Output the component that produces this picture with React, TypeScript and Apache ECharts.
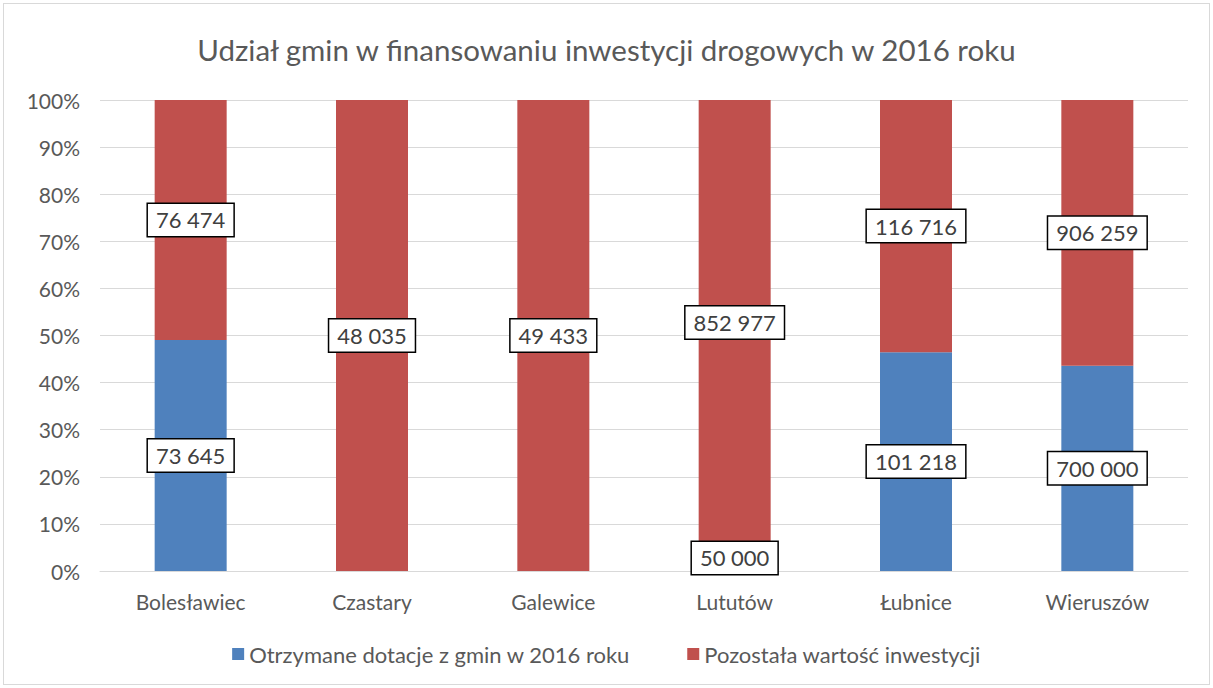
import React, { useEffect, useRef } from "react";
import * as echarts from "echarts";

const categories = ["Bolesławiec", "Czastary", "Galewice", "Lututów", "Łubnice", "Wieruszów"];
const grants = [73645, 0, 0, 50000, 101218, 700000];
const remaining = [76474, 48035, 49433, 852977, 116716, 906259];
const seriesNames = ["Otrzymane dotacje z gmin w 2016 roku", "Pozostała wartość inwestycji"];
const title = "Udział gmin w finansowaniu inwestycji drogowych w 2016 roku";

const fmt = (v: number) => String(v).replace(/\B(?=(\d{3})+(?!\d))/g, " ");

export default function App() {
  const ref = useRef<HTMLDivElement>(null);
  useEffect(() => {
    const chart = echarts.init(ref.current!, null, { renderer: "svg" });
    const totals = grants.map((g, i) => g + remaining[i]);
    const font = "Lato, 'Noto Sans', sans-serif";
    const labelStyle = {
      show: true,
      position: "inside",
      fontFamily: font,
      fontSize: 22,
      color: "#404040",
      backgroundColor: "#ffffff",
      borderColor: "#000000",
      borderWidth: 1.5,
      padding: [6, 8, 4, 8],
      formatter: (p: any) => fmt(p.data.raw),
    };
    const mk = (arr: number[]) =>
      arr.map((v, i) => ({
        value: (v / totals[i]) * 100,
        raw: v,
        label: v === 0 ? { show: false } : undefined,
      }));
    chart.setOption({
      animation: false,
      textStyle: { fontFamily: font },
      title: {
        text: title,
        left: "center",
        top: 29,
        textStyle: { fontFamily: font, fontSize: 29.5, fontWeight: "normal", color: "#595959" },
      },
      legend: {
        bottom: 18,
        left: "center",
        itemWidth: 12,
        itemHeight: 12,
        itemGap: 57,
        icon: "rect",
        textStyle: { fontFamily: font, fontSize: 22, color: "#595959" },
        data: seriesNames,
      },
      grid: { left: 100, right: 25, top: 100, bottom: 117, containLabel: false },
      xAxis: {
        type: "category",
        data: categories,
        axisLine: { lineStyle: { color: "#d9d9d9" } },
        axisTick: { show: false },
        axisLabel: { fontFamily: font, fontSize: 21, color: "#595959", margin: 20 },
      },
      yAxis: {
        type: "value",
        min: 0,
        max: 100,
        interval: 10,
        axisLine: { show: false },
        axisTick: { show: false },
        splitLine: { lineStyle: { color: "#d9d9d9" } },
        axisLabel: { formatter: "{value}%", fontFamily: font, fontSize: 21, color: "#595959", margin: 20 },
      },
      series: [
        {
          name: seriesNames[0],
          type: "bar",
          stack: "a",
          barWidth: 72,
          itemStyle: { color: "#4f81bd" },
          label: labelStyle,
          data: mk(grants),
        },
        {
          name: seriesNames[1],
          type: "bar",
          stack: "a",
          barWidth: 72,
          itemStyle: { color: "#c0504d" },
          label: labelStyle,
          data: mk(remaining),
        },
      ],
    });
    return () => chart.dispose();
  }, []);
  return (
    <div
      style={{
        position: "absolute",
        left: 0,
        top: 0,
        width: 1213,
        height: 688,
        background: "#fff",
      }}
    >
      <div
        style={{
          position: "absolute",
          left: 3,
          top: 3,
          width: 1205,
          height: 680,
          border: "1px solid #d9d9d9",
        }}
      />
      <div ref={ref} style={{ position: "absolute", left: 0, top: 0, width: 1213, height: 688 }} />
    </div>
  );
}
